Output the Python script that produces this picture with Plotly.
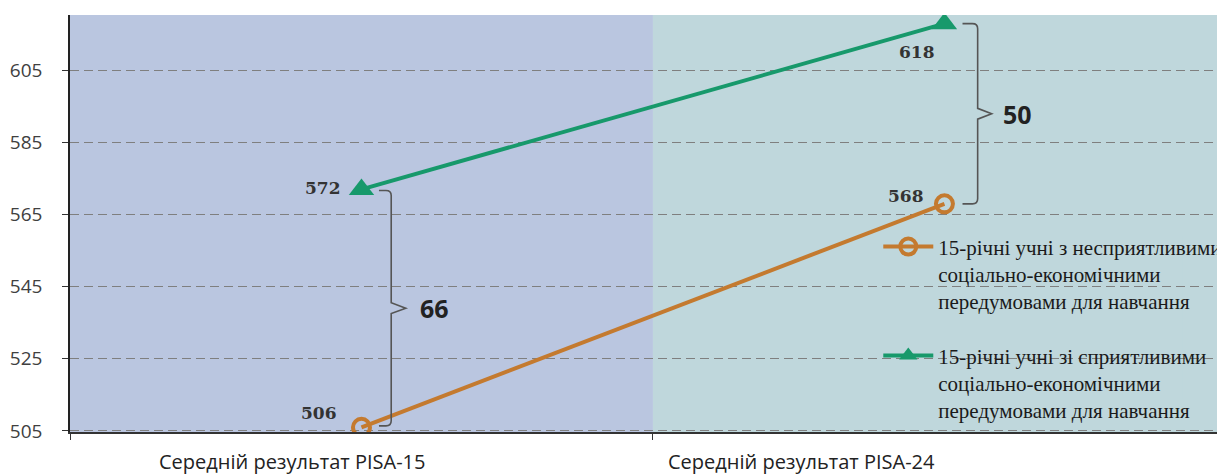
import plotly.graph_objects as go

# data
periods = ["Середній результат PISA-15", "Середній результат PISA-24"]
period_x = [0, 1]
disadvantaged = [506, 568]
advantaged = [572, 618]
series_names = [
    "15-річні учні з несприятливими<br>соціально-економічними<br>передумовами для навчання",
    "15-річні учні зі сприятливими<br>соціально-економічними<br>передумовами для навчання",
]
y_ticks = [505, 525, 545, 565, 585, 605]

ORANGE = "#c47a2f"
GREEN = "#17996b"
BG_LEFT = "#bac6e0"
BG_RIGHT = "#bfd7dc"
BRACE = "#555555"

fig = go.Figure()

fig.add_trace(go.Scatter(
    x=period_x, y=disadvantaged, mode="lines+markers", name=series_names[0],
    line=dict(color=ORANGE, width=4),
    marker=dict(symbol="circle-open", size=17, color=ORANGE, line=dict(width=4, color=ORANGE)),
    legendgroup="a",
))
fig.add_trace(go.Scatter(
    x=period_x, y=advantaged, mode="lines+markers", name=series_names[1],
    line=dict(color=GREEN, width=4),
    marker=dict(symbol="triangle-up", size=22, color=GREEN),
    legendgroup="b",
))

# backgrounds for the two periods
fig.add_shape(type="rect", xref="x", yref="paper", x0=-0.5, x1=0.5, y0=0, y1=1,
              fillcolor=BG_LEFT, line_width=0, layer="below")
fig.add_shape(type="rect", xref="x", yref="paper", x0=0.5, x1=1.6, y0=0, y1=1,
              fillcolor=BG_RIGHT, line_width=0, layer="below")
# patch behind the legend that hides the grid but stays under the lines
fig.add_shape(type="rect", xref="paper", yref="paper", x0=0.688, x1=0.957, y0=0.08, y1=0.47,
              fillcolor=BG_RIGHT, line_width=0, layer="between")

# value labels
label_font = dict(family="DejaVu Serif", size=17, color="#333333", weight="bold")
offsets_dis = [(-42, 14), (-38, 8)]
offsets_adv = [(-38, 1), (-27, -28)]
for xs, ys, offs in [(period_x, disadvantaged, offsets_dis), (period_x, advantaged, offsets_adv)]:
    for xv, yv, (dx, dy) in zip(xs, ys, offs):
        fig.add_annotation(x=xv, y=yv, text=str(yv), showarrow=False,
                           xshift=dx, yshift=dy, font=label_font)


def brace_path(x0, xv, xt, ytop, ybot, rx, ry, k):
    ym = (ytop + ybot) / 2
    return (f"M {x0},{ytop} L {xv - rx},{ytop} Q {xv},{ytop} {xv},{ytop - ry} "
            f"L {xv},{ym + k} L {xt},{ym} L {xv},{ym - k} "
            f"L {xv},{ybot + ry} Q {xv},{ybot} {xv - rx},{ybot} L {x0},{ybot}")


# gap braces
braces = [
    (advantaged[0], disadvantaged[0], -0.3, 0.4, 0.03, 0.051, 0.076, 0.125),
    (advantaged[1], disadvantaged[1], 0.0, 0.0, 1.031, 1.057, 1.081, 1.126),
]
for hi, lo, dt, db, x0, xv, xt, xlab in braces:
    top, bot = hi + dt, lo + db
    fig.add_shape(type="path", xref="x", yref="y",
                  path=brace_path(x0, xv, xt, top, bot, 0.009, 1.4, 1.5),
                  line=dict(color=BRACE, width=1.6))
    fig.add_annotation(x=xlab, y=(top + bot) / 2, text=str(hi - lo), showarrow=False,
                       font=dict(family="Open Sans", size=25, color="#222222", weight="bold"))

# category labels under the axis
label_pos = [-0.12, 0.755]
for xv, txt in zip(label_pos, periods):
    fig.add_annotation(x=xv, xref="x", y=0, yref="paper", yshift=-45, text=txt, showarrow=False,
                       font=dict(family="Open Sans", size=20, color="#222222"))

fig.update_xaxes(
    range=[-0.5, 1.495], tickvals=[-0.5, 0.5], ticktext=["", ""],
    ticks="outside", ticklen=6, tickcolor="#333333", tickwidth=1.2,
    showline=True, linecolor="#333333", linewidth=1.5,
    showgrid=False, zeroline=False, automargin=False,
)
fig.update_yaxes(
    range=[504.7, 620.4], tickvals=y_ticks,
    ticks="outside", ticklen=6, tickcolor="#333333", tickwidth=1.2,
    ticklabelstandoff=16,
    tickfont=dict(family="Open Sans", size=19, color="#404040"),
    showline=True, linecolor="#222222", linewidth=1.5,
    showgrid=True, gridcolor="#7f7f7f", gridwidth=1.4, griddash="9px,5px",
    zeroline=False, automargin=False,
)

# the page body adds an 8px offset, so margins are shifted to compensate
fig.update_layout(
    width=1225, height=474,
    margin=dict(l=62, r=0, t=7, b=50),
    plot_bgcolor="white", paper_bgcolor="white",
    showlegend=True,
    legend=dict(
        x=0.695, y=0.493, xanchor="left", yanchor="top",
        bgcolor="rgba(0,0,0,0)", borderwidth=0,
        font=dict(family="Liberation Serif", size=21, color="#1a1a1a"),
        tracegroupgap=24, valign="top", itemwidth=50,
    ),
)

fig.write_html("out.html")
